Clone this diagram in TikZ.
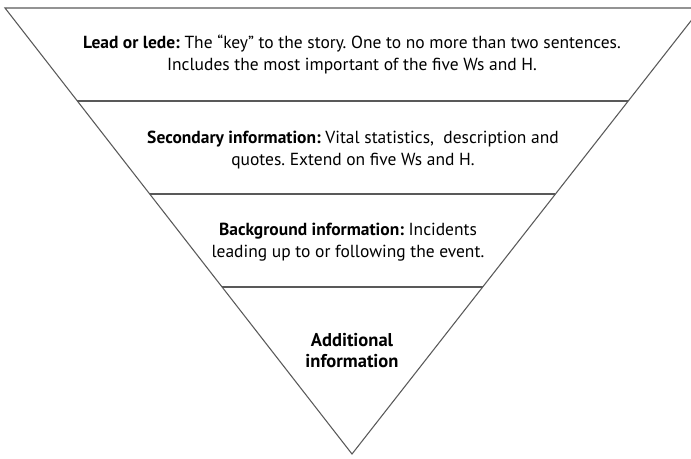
\documentclass[tikz,border=0pt]{standalone}
\usepackage{fontspec}
\setmainfont{PT Sans}
\usetikzlibrary{calc}
\begin{document}
\frenchspacing
\begin{tikzpicture}[x=0.75pt,y=-0.75pt,
  edge/.style={draw=black!65,line width=0.8pt},
  layertext/.style={align=center,font=\fontsize{13.1pt}{16pt}\selectfont,inner sep=0pt,anchor=base}]
\useasboundingbox (0,0) rectangle (691,458);
\begin{scope}
\clip (0,0) rectangle (691,458);
\coordinate (TL) at (5,8);
\coordinate (TR) at (701,8);
\coordinate (AP) at (352,454);
\draw[edge] (TL) -- (TR) -- (AP) -- cycle;
\foreach \t/\n in {0.2085/a,0.417/b,0.6256/c}{
  \coordinate (L\n) at ($(TL)!\t!(AP)$);
  \coordinate (R\n) at ($(TR)!\t!(AP)$);
  \draw[edge] (L\n) -- (R\n);
}
\end{scope}
\node[layertext] (lead) at (352,70) {\textbf{Lead or lede:} The “key” to the story. One to no more than two sentences.\\Includes the most important of the five Ws and H.};
\node[layertext] (second) at (353,165) {\textbf{Secondary information:} Vital statistics,\ \ description and\\quotes. Extend on five Ws and H.};
\node[layertext] (back) at (348,257) {\textbf{Background information:} Incidents\\leading up to or following the event.};
\node[layertext,font=\fontsize{13.9pt}{15.5pt}\selectfont] (add) at (352,367) {\textbf{Additional}\\\textbf{information}};
\end{tikzpicture}
\end{document}
